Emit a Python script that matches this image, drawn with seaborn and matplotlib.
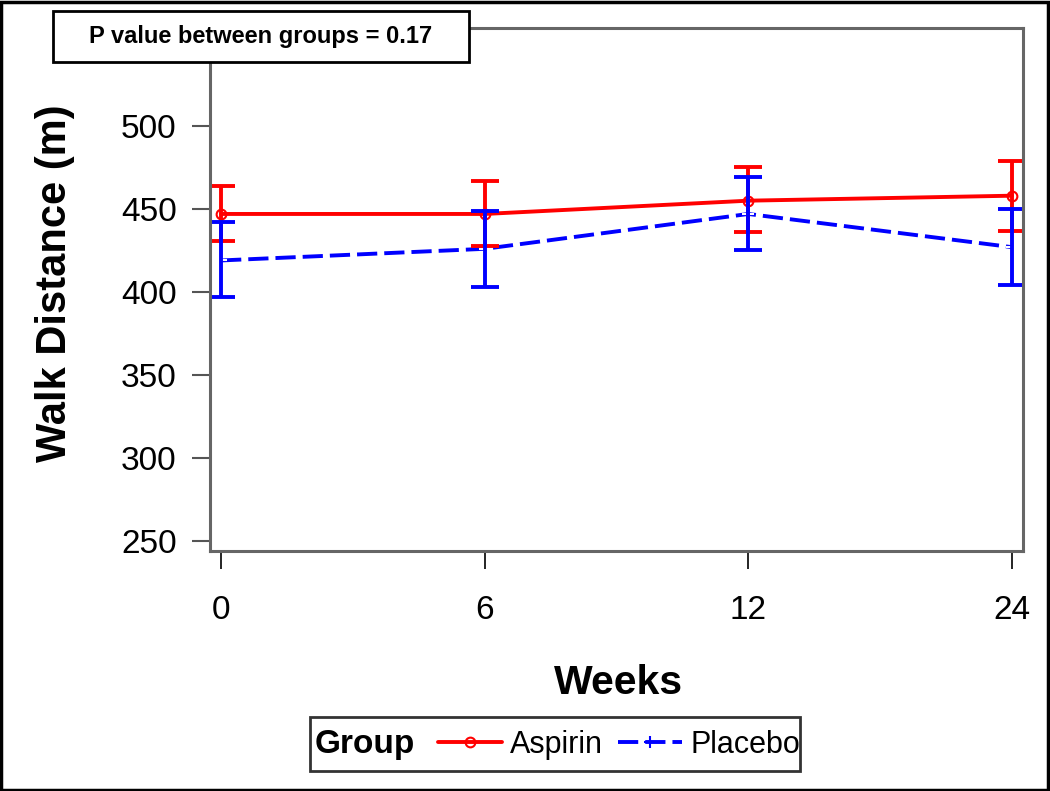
import matplotlib
matplotlib.use("Agg")
import matplotlib.pyplot as plt
from matplotlib.patches import Rectangle
from matplotlib.lines import Line2D
import seaborn as sns
import pandas as pd
import numpy as np

# data
weeks = ["0", "6", "12", "24"]
aspirin_mean = [447, 447, 455, 458]
aspirin_lo = [431, 428, 436, 437]
aspirin_hi = [464, 467, 475, 479]
placebo_mean = [419, 426, 447, 427]
placebo_lo = [397, 403, 425, 404]
placebo_hi = [442, 449, 469, 450]
groups = ["Aspirin", "Placebo"]
colors = {"Aspirin": "#ff0000", "Placebo": "#0000ff"}
y_ticks = [250, 300, 350, 400, 450, 500]

sns.set_style("white")
plt.rcParams['font.family'] = ['Liberation Sans', 'DejaVu Sans']
plt.rcParams['text.color'] = 'black'
plt.rcParams['axes.labelcolor'] = 'black'
plt.rcParams['xtick.color'] = 'black'
plt.rcParams['ytick.color'] = 'black'

LW = 2.8
DASH = (0, (5.2, 1.8))

x = np.arange(len(weeks))
asp = pd.DataFrame({"pos": x, "Distance": aspirin_mean})
pla = pd.DataFrame({"pos": x, "Distance": placebo_mean})

fig = plt.figure(figsize=(10.5, 7.91), dpi=100)
ax = fig.add_axes([0.2, 0.3034, 0.7743, 0.6612])

sns.lineplot(data=asp, x="pos", y="Distance", color=colors["Aspirin"],
             marker="o", markersize=7, markerfacecolor="none",
             markeredgecolor=colors["Aspirin"], markeredgewidth=1.5,
             linewidth=LW, ax=ax)
sns.lineplot(data=pla, x="pos", y="Distance", color=colors["Placebo"],
             marker="+", markersize=9, markeredgewidth=1.5,
             linewidth=LW, ax=ax)
ax.lines[-1].set_linestyle(DASH)

for g, m, lo, hi in [("Aspirin", aspirin_mean, aspirin_lo, aspirin_hi),
                     ("Placebo", placebo_mean, placebo_lo, placebo_hi)]:
    m = np.array(m)
    ax.errorbar(x, m, yerr=[m - np.array(lo), np.array(hi) - m], fmt="none",
                ecolor=colors[g], elinewidth=LW, capsize=10, capthick=LW)

ax.set_xlim(-0.042, 3.042)
ax.set_ylim(244, 559)
ax.set_xticks(x)
ax.set_xticklabels(weeks)
ax.set_yticks(y_ticks)
ax.tick_params(axis="x", length=13, width=1.2, color="black", pad=19, labelsize=24, bottom=True)
ax.tick_params(axis="y", length=13, width=1.5, color="#555555", pad=11, labelsize=24, left=True)
for s in ax.spines.values():
    s.set_color("#666666")
    s.set_linewidth(2.2)

ax.set_xlabel("Weeks", fontsize=29.5, fontweight="bold")
ax.set_ylabel("Walk Distance (m)", fontsize=30, fontweight="bold")
ax.xaxis.set_label_coords(0.502, -0.252)
ax.xaxis.label.set_va("center")
ax.yaxis.set_label_coords(-0.1907, 0.512)
ax.yaxis.label.set_va("center")

W, H = 1050, 791

def fx(px):
    return px / W

def fy(py):
    return 1 - py / H

# p-value box
fig.patches.append(Rectangle((fx(53), fy(62)), fx(469) - fx(53), fy(11) - fy(62),
                             transform=fig.transFigure, facecolor="white",
                             edgecolor="black", linewidth=2, zorder=5))
fig.text(fx(261), fy(37), "P value between groups = 0.17", fontsize=17,
         fontweight="bold", ha="center", va="center", zorder=6)

# legend
fig.patches.append(Rectangle((fx(310), fy(771)), fx(800) - fx(310), fy(717) - fy(771),
                             transform=fig.transFigure, facecolor="white",
                             edgecolor="#333333", linewidth=2, zorder=5))
fig.text(fx(315), fy(745), "Group", fontsize=24, fontweight="bold",
         ha="left", va="center", zorder=6)
handles = [Line2D([], [], color=colors["Aspirin"], lw=LW, marker="o", ms=7,
                  mfc="none", mew=1.5),
           Line2D([], [], color=colors["Placebo"], lw=LW, ls=DASH,
                  marker="+", ms=9, mew=1.5)]
leg = fig.legend(handles, groups, loc="center left",
                 bbox_to_anchor=(fx(438), fy(745)), ncol=2, frameon=False,
                 fontsize=22, handlelength=2.1, handletextpad=0.26,
                 columnspacing=0.49, borderaxespad=0, borderpad=0)
leg.set_zorder(7)

# outer border
fig.patches.append(Rectangle((0.001, 0.001), 0.997, 0.997, transform=fig.transFigure,
                             facecolor="none", edgecolor="black", linewidth=2.5, zorder=8))

fig.savefig("out.png", dpi=100)
